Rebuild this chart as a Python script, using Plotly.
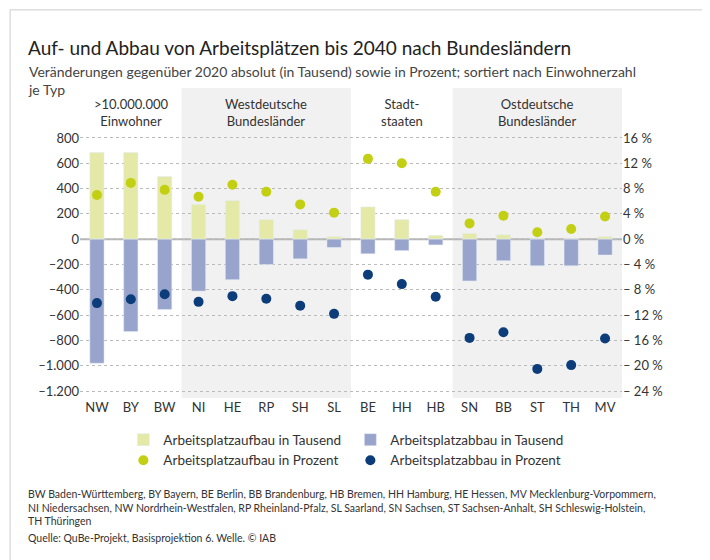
import plotly.graph_objects as go

laender = ['NW', 'BY', 'BW', 'NI', 'HE', 'RP', 'SH', 'SL', 'BE', 'HH', 'HB', 'SN', 'BB', 'ST', 'TH', 'MV']
aufbau_abs = [685, 685, 495, 275, 305, 155, 75, 20, 255, 155, 30, 45, 35, 5, 5, 20]
abbau_abs = [-980, -730, -555, -410, -320, -200, -155, -65, -115, -90, -45, -330, -170, -210, -210, -125]
aufbau_pct = [7.0, 8.9, 7.8, 6.7, 8.6, 7.5, 5.5, 4.2, 12.7, 12.0, 7.5, 2.5, 3.7, 1.1, 1.6, 3.6]
abbau_pct = [-10.1, -9.5, -8.7, -9.9, -9.0, -9.4, -10.5, -11.8, -5.6, -7.1, -9.1, -15.6, -14.7, -20.5, -19.9, -15.7]

gruppen = ['>10.000.000<br>Einwohner', 'Westdeutsche<br>Bundesländer', 'Stadt-<br>staaten', 'Ostdeutsche<br>Bundesländer']
gruppen_mitte = [1, 5, 9, 13]

left_ticks = list(range(-1200, 801, 200))
left_labels = [('\u2013' + f'{-v:,}'.replace(',', '.')) if v < 0 else str(v) for v in left_ticks]
right_ticks = list(range(-24, 17, 4))
right_labels = [('\u2013 ' + f'{-v} %') if v < 0 else f'{v} %' for v in right_ticks]

fig = go.Figure()
fig.add_trace(go.Bar(x=laender, y=aufbau_abs, name='Arbeitsplatzaufbau in Tausend',
                     marker_color='#e4e9a7', width=0.42))
fig.add_trace(go.Bar(x=laender, y=abbau_abs, name='Arbeitsplatzabbau in Tausend',
                     marker_color='#98a4cc', width=0.42))
fig.add_trace(go.Scatter(x=laender, y=aufbau_pct, name='Arbeitsplatzaufbau in Prozent', mode='markers',
                         marker=dict(color='#c3cf12', size=10), yaxis='y2'))
fig.add_trace(go.Scatter(x=laender, y=abbau_pct, name='Arbeitsplatzabbau in Prozent', mode='markers',
                         marker=dict(color='#0c3d7a', size=10), yaxis='y2'))

# shaded groups
for a, b in [(2.5, 7.5), (10.5, 15.5)]:
    fig.add_shape(type='rect', xref='x', yref='paper', x0=a, x1=b, y0=0, y1=1,
                  fillcolor='#f1f1f1', line_width=0, layer='below')
fig.add_shape(type='line', xref='paper', yref='y', x0=0, x1=1, y0=0, y1=0,
              line=dict(color='#b4b4b4', width=2), layer='below')
# outer frame
fig.add_shape(type='rect', xref='paper', yref='paper', x0=-0.129, x1=1.173, y0=-0.542, y1=1.252,
              line=dict(color='#cccccc', width=1))

for g, m in zip(gruppen, gruppen_mitte):
    fig.add_annotation(x=m, y=1.0, xref='x', yref='paper', text=g, showarrow=False,
                       yanchor='top', yshift=-6, font=dict(size=13, color='#333'))

fig.add_annotation(xref='paper', yref='paper', x=-0.1, y=1.175, xanchor='left', yanchor='top',
                   text='Auf- und Abbau von Arbeitsplätzen bis 2040 nach Bundesländern', showarrow=False,
                   font=dict(size=19, color='#222'), align='left')
fig.add_annotation(xref='paper', yref='paper', x=-0.1, y=1.087, xanchor='left', yanchor='top',
                   text='Veränderungen gegenüber 2020 absolut (in Tausend) sowie in Prozent; sortiert nach Einwohnerzahl<br>je Typ',
                   showarrow=False, font=dict(size=14, color='#444'), align='left')
fig.add_annotation(xref='paper', yref='paper', x=-0.1, y=-0.284, xanchor='left', yanchor='top',
                   text='BW Baden-Württemberg, BY Bayern, BE Berlin, BB Brandenburg, HB Bremen, HH Hamburg, HE Hessen, MV Mecklenburg-Vorpommern,<br>'
                        'NI Niedersachsen, NW Nordrhein-Westfalen, RP Rheinland-Pfalz, SL Saarland, SN Sachsen, ST Sachsen-Anhalt, SH Schleswig-Holstein,<br>'
                        'TH Thüringen',
                   showarrow=False, font=dict(size=10.5, color='#333'), align='left')
fig.add_annotation(xref='paper', yref='paper', x=-0.1, y=-0.426, xanchor='left', yanchor='top',
                   text='Quelle: QuBe-Projekt, Basisprojektion 6. Welle. © IAB',
                   showarrow=False, font=dict(size=10.5, color='#333'), align='left')

fig.update_layout(
    width=710, height=560, margin=dict(l=72, r=96, t=80, b=170),
    paper_bgcolor='white', plot_bgcolor='white',
    font=dict(family='Lato, sans-serif', size=13, color='#333'),
    barmode='relative', showlegend=True,
    legend=dict(orientation='h', x=0.08, y=-0.085, xanchor='left', yanchor='top',
                entrywidth=182, font=dict(size=13.5), traceorder='normal', tracegroupgap=0),
    xaxis=dict(type='category', range=[-0.5, 15.5], showgrid=False, ticks='', tickfont=dict(size=13)),
    yaxis=dict(range=[-1255, 1195], tickvals=left_ticks, ticktext=left_labels, showgrid=True,
               gridcolor='#bbbbbb', griddash='dot', gridwidth=1, zeroline=False, tickfont=dict(size=13)),
    yaxis2=dict(range=[-25.1, 23.9], overlaying='y', side='right', tickvals=right_ticks,
                ticktext=right_labels, showgrid=False, zeroline=False, tickfont=dict(size=13)),
)

fig.write_html('out.html')
